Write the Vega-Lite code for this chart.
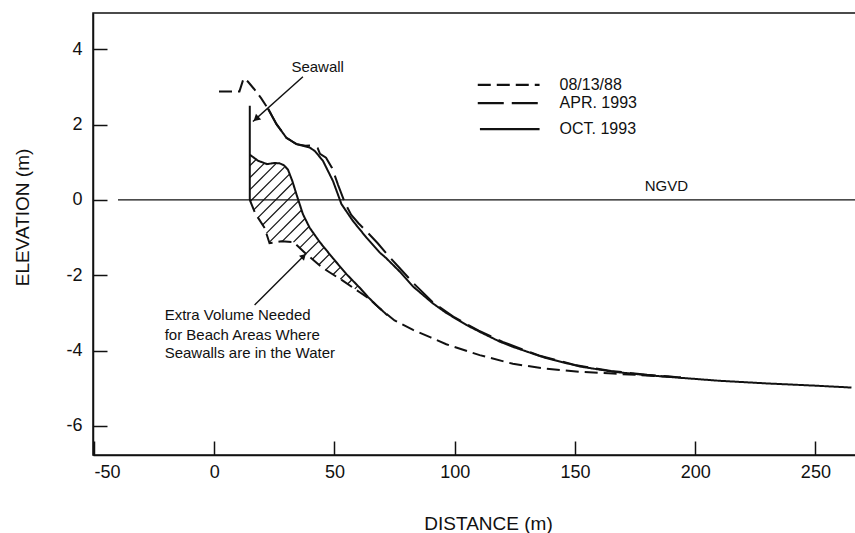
{
  "$schema": "https://vega.github.io/schema/vega-lite/v6.json",
  "width": 770,
  "height": 442,
  "autosize": {"type": "none"},
  "padding": {"left": 93, "top": 13, "right": 0, "bottom": 78},
  "background": "white",
  "config": {
    "view": {"stroke": "#111", "strokeWidth": 1.5},
    "font": "Liberation Sans",
    "axis": {"grid": false, "domainColor": "#111", "domainWidth": 1.5, "tickColor": "#111", "tickWidth": 1.5, "labelColor": "#111", "titleColor": "#111", "labelFont": "Liberation Sans", "titleFont": "Liberation Sans", "titleFontWeight": "normal"}
  },
  "datasets": {
    "profiles": [
      {"series": "08/13/88", "seg": "d1", "i": 0, "x": 2, "y": 2.88},
      {"series": "08/13/88", "seg": "d1", "i": 1, "x": 10.5, "y": 2.88},
      {"series": "08/13/88", "seg": "d1", "i": 2, "x": 12.2, "y": 3.22},
      {"series": "08/13/88", "seg": "d1", "i": 3, "x": 14, "y": 3.14},
      {"series": "08/13/88", "seg": "d1", "i": 4, "x": 16.5, "y": 2.95},
      {"series": "08/13/88", "seg": "d1", "i": 5, "x": 19.5, "y": 2.7},
      {"series": "08/13/88", "seg": "d1", "i": 6, "x": 22.4, "y": 2.42},
      {"series": "08/13/88", "seg": "d2", "i": 0, "x": 14.8, "y": 0},
      {"series": "08/13/88", "seg": "d2", "i": 1, "x": 17, "y": -0.35},
      {"series": "08/13/88", "seg": "d2", "i": 2, "x": 21, "y": -0.75},
      {"series": "08/13/88", "seg": "d2", "i": 3, "x": 23, "y": -1.15},
      {"series": "08/13/88", "seg": "d2", "i": 4, "x": 28, "y": -1.1},
      {"series": "08/13/88", "seg": "d2", "i": 5, "x": 33, "y": -1.12},
      {"series": "08/13/88", "seg": "d2", "i": 6, "x": 38, "y": -1.42},
      {"series": "08/13/88", "seg": "d2", "i": 7, "x": 45, "y": -1.8},
      {"series": "08/13/88", "seg": "d2", "i": 8, "x": 53.6, "y": -2.15},
      {"series": "08/13/88", "seg": "d2", "i": 9, "x": 60.5, "y": -2.45},
      {"series": "08/13/88", "seg": "d2", "i": 10, "x": 64, "y": -2.6},
      {"series": "08/13/88", "seg": "d2", "i": 11, "x": 68.9, "y": -2.88},
      {"series": "08/13/88", "seg": "d2", "i": 12, "x": 75, "y": -3.2},
      {"series": "08/13/88", "seg": "d2", "i": 13, "x": 82.7, "y": -3.45},
      {"series": "08/13/88", "seg": "d2", "i": 14, "x": 90, "y": -3.65},
      {"series": "08/13/88", "seg": "d2", "i": 15, "x": 96.5, "y": -3.83},
      {"series": "08/13/88", "seg": "d2", "i": 16, "x": 110.4, "y": -4.12},
      {"series": "08/13/88", "seg": "d2", "i": 17, "x": 124.2, "y": -4.35},
      {"series": "08/13/88", "seg": "d2", "i": 18, "x": 138.1, "y": -4.48},
      {"series": "08/13/88", "seg": "d2", "i": 19, "x": 152, "y": -4.56},
      {"series": "08/13/88", "seg": "d2", "i": 20, "x": 165.8, "y": -4.61},
      {"series": "08/13/88", "seg": "d2", "i": 21, "x": 180, "y": -4.66},
      {"series": "08/13/88", "seg": "d2", "i": 22, "x": 194, "y": -4.71},
      {"series": "APR. 1993", "seg": "a1", "i": 0, "x": 22.4, "y": 2.42},
      {"series": "APR. 1993", "seg": "a1", "i": 1, "x": 25.9, "y": 2.01},
      {"series": "APR. 1993", "seg": "a1", "i": 2, "x": 30, "y": 1.65},
      {"series": "APR. 1993", "seg": "a1", "i": 3, "x": 34.2, "y": 1.48},
      {"series": "APR. 1993", "seg": "a1", "i": 4, "x": 38, "y": 1.44},
      {"series": "APR. 1993", "seg": "a1", "i": 5, "x": 41, "y": 1.45},
      {"series": "APR. 1993", "seg": "a1", "i": 6, "x": 43, "y": 1.38},
      {"series": "APR. 1993", "seg": "a1", "i": 7, "x": 44, "y": 1.22},
      {"series": "APR. 1993", "seg": "a1", "i": 8, "x": 46.5, "y": 1.12},
      {"series": "APR. 1993", "seg": "a1", "i": 9, "x": 49, "y": 0.85},
      {"series": "APR. 1993", "seg": "a1", "i": 10, "x": 51.5, "y": 0.4},
      {"series": "APR. 1993", "seg": "a1", "i": 11, "x": 54.5, "y": -0.1},
      {"series": "APR. 1993", "seg": "a1", "i": 12, "x": 57, "y": -0.4},
      {"series": "APR. 1993", "seg": "a1", "i": 13, "x": 60, "y": -0.62},
      {"series": "APR. 1993", "seg": "a1", "i": 14, "x": 64, "y": -0.88},
      {"series": "APR. 1993", "seg": "a1", "i": 15, "x": 68, "y": -1.15},
      {"series": "APR. 1993", "seg": "a1", "i": 16, "x": 72, "y": -1.45},
      {"series": "APR. 1993", "seg": "a1", "i": 17, "x": 77, "y": -1.8},
      {"series": "APR. 1993", "seg": "a1", "i": 18, "x": 83, "y": -2.22},
      {"series": "APR. 1993", "seg": "a1", "i": 19, "x": 91, "y": -2.72},
      {"series": "APR. 1993", "seg": "a1", "i": 20, "x": 100, "y": -3.12},
      {"series": "APR. 1993", "seg": "a1", "i": 21, "x": 110, "y": -3.47},
      {"series": "APR. 1993", "seg": "a1", "i": 22, "x": 120, "y": -3.77},
      {"series": "APR. 1993", "seg": "a1", "i": 23, "x": 135, "y": -4.13},
      {"series": "APR. 1993", "seg": "a1", "i": 24, "x": 150, "y": -4.38},
      {"series": "APR. 1993", "seg": "a1", "i": 25, "x": 165, "y": -4.54},
      {"series": "APR. 1993", "seg": "a1", "i": 26, "x": 180, "y": -4.64},
      {"series": "APR. 1993", "seg": "a1", "i": 27, "x": 194, "y": -4.71},
      {"series": "OCT. 1993", "seg": "o1", "i": 0, "x": 22.4, "y": 2.42},
      {"series": "OCT. 1993", "seg": "o1", "i": 1, "x": 25.9, "y": 2.01},
      {"series": "OCT. 1993", "seg": "o1", "i": 2, "x": 30, "y": 1.65},
      {"series": "OCT. 1993", "seg": "o1", "i": 3, "x": 34.2, "y": 1.48},
      {"series": "OCT. 1993", "seg": "o1", "i": 4, "x": 39.7, "y": 1.39},
      {"series": "OCT. 1993", "seg": "o1", "i": 5, "x": 41.8, "y": 1.3},
      {"series": "OCT. 1993", "seg": "o1", "i": 6, "x": 45.2, "y": 1.04},
      {"series": "OCT. 1993", "seg": "o1", "i": 7, "x": 49.4, "y": 0.5},
      {"series": "OCT. 1993", "seg": "o1", "i": 8, "x": 52.9, "y": -0.11},
      {"series": "OCT. 1993", "seg": "o1", "i": 9, "x": 57.7, "y": -0.56},
      {"series": "OCT. 1993", "seg": "o1", "i": 10, "x": 63.3, "y": -1.0},
      {"series": "OCT. 1993", "seg": "o1", "i": 11, "x": 68.9, "y": -1.4},
      {"series": "OCT. 1993", "seg": "o1", "i": 12, "x": 71.6, "y": -1.55},
      {"series": "OCT. 1993", "seg": "o1", "i": 13, "x": 77.1, "y": -1.9},
      {"series": "OCT. 1993", "seg": "o1", "i": 14, "x": 82.7, "y": -2.3},
      {"series": "OCT. 1993", "seg": "o1", "i": 15, "x": 91, "y": -2.75},
      {"series": "OCT. 1993", "seg": "o1", "i": 16, "x": 96.5, "y": -3.0},
      {"series": "OCT. 1993", "seg": "o1", "i": 17, "x": 104.9, "y": -3.32},
      {"series": "OCT. 1993", "seg": "o1", "i": 18, "x": 110.4, "y": -3.5},
      {"series": "OCT. 1993", "seg": "o1", "i": 19, "x": 118.7, "y": -3.76},
      {"series": "OCT. 1993", "seg": "o1", "i": 20, "x": 124.2, "y": -3.9},
      {"series": "OCT. 1993", "seg": "o1", "i": 21, "x": 138.1, "y": -4.2},
      {"series": "OCT. 1993", "seg": "o1", "i": 22, "x": 152, "y": -4.42},
      {"series": "OCT. 1993", "seg": "o1", "i": 23, "x": 165.8, "y": -4.56},
      {"series": "OCT. 1993", "seg": "o1", "i": 24, "x": 179.7, "y": -4.65},
      {"series": "OCT. 1993", "seg": "o1", "i": 25, "x": 193.6, "y": -4.72},
      {"series": "OCT. 1993", "seg": "o1", "i": 26, "x": 210, "y": -4.8},
      {"series": "OCT. 1993", "seg": "o1", "i": 27, "x": 229.6, "y": -4.87},
      {"series": "OCT. 1993", "seg": "o1", "i": 28, "x": 250, "y": -4.93},
      {"series": "OCT. 1993", "seg": "o1", "i": 29, "x": 265, "y": -4.98},
      {"series": "OCT. 1993", "seg": "o2", "i": 0, "x": 14.8, "y": 1.2},
      {"series": "OCT. 1993", "seg": "o2", "i": 1, "x": 18.2, "y": 1.04},
      {"series": "OCT. 1993", "seg": "o2", "i": 2, "x": 22, "y": 0.95},
      {"series": "OCT. 1993", "seg": "o2", "i": 3, "x": 25, "y": 0.98},
      {"series": "OCT. 1993", "seg": "o2", "i": 4, "x": 27.2, "y": 0.97},
      {"series": "OCT. 1993", "seg": "o2", "i": 5, "x": 29, "y": 0.92},
      {"series": "OCT. 1993", "seg": "o2", "i": 6, "x": 30.7, "y": 0.8},
      {"series": "OCT. 1993", "seg": "o2", "i": 7, "x": 32.5, "y": 0.5},
      {"series": "OCT. 1993", "seg": "o2", "i": 8, "x": 34.2, "y": 0.15},
      {"series": "OCT. 1993", "seg": "o2", "i": 9, "x": 36.9, "y": -0.38},
      {"series": "OCT. 1993", "seg": "o2", "i": 10, "x": 39.7, "y": -0.74},
      {"series": "OCT. 1993", "seg": "o2", "i": 11, "x": 43.9, "y": -1.12},
      {"series": "OCT. 1993", "seg": "o2", "i": 12, "x": 49.4, "y": -1.55},
      {"series": "OCT. 1993", "seg": "o2", "i": 13, "x": 55, "y": -1.97},
      {"series": "OCT. 1993", "seg": "o2", "i": 14, "x": 60.5, "y": -2.33},
      {"series": "OCT. 1993", "seg": "o2", "i": 15, "x": 64, "y": -2.58},
      {"series": "OCT. 1993", "seg": "o2", "i": 16, "x": 68, "y": -2.83},
      {"series": "OCT. 1993", "seg": "o2", "i": 17, "x": 72, "y": -3.06},
      {"series": "OCT. 1993", "seg": "o3", "i": 0, "x": 14.8, "y": 2.5},
      {"series": "OCT. 1993", "seg": "o3", "i": 1, "x": 14.8, "y": 0}
    ],
    "hatch": [
      {"x": 14.8, "y": 0.905, "x2": 17.46, "y2": 1.075},
      {"x": 14.8, "y": 0.587, "x2": 20.91, "y2": 0.977},
      {"x": 14.8, "y": 0.268, "x2": 25.7, "y2": 0.964},
      {"x": 15.01, "y": -0.037, "x2": 29.23, "y2": 0.871},
      {"x": 16.47, "y": -0.263, "x2": 31.31, "y2": 0.685},
      {"x": 18.21, "y": -0.47, "x2": 32.6, "y2": 0.449},
      {"x": 20.12, "y": -0.666, "x2": 33.89, "y2": 0.212},
      {"x": 21.66, "y": -0.887, "x2": 35.13, "y2": -0.027},
      {"x": 22.87, "y": -1.128, "x2": 36.34, "y2": -0.268},
      {"x": 28.27, "y": -1.102, "x2": 37.8, "y2": -0.494},
      {"x": 32.97, "y": -1.12, "x2": 39.46, "y2": -0.706},
      {"x": 35.55, "y": -1.274, "x2": 41.46, "y2": -0.897},
      {"x": 38.13, "y": -1.428, "x2": 43.53, "y2": -1.086},
      {"x": 40.83, "y": -1.574, "x2": 45.74, "y2": -1.261},
      {"x": 43.53, "y": -1.72, "x2": 47.94, "y2": -1.439},
      {"x": 46.4, "y": -1.856, "x2": 50.23, "y2": -1.611},
      {"x": 49.44, "y": -1.98, "x2": 52.52, "y2": -1.784},
      {"x": 52.47, "y": -2.105, "x2": 54.8, "y2": -1.956},
      {"x": 55.47, "y": -2.233, "x2": 57.26, "y2": -2.118},
      {"x": 58.46, "y": -2.36, "x2": 59.71, "y2": -2.28}
    ],
    "leaders": [
      {"x": 36.9, "y": 3.27, "x2": 16.1, "y2": 2.08},
      {"x": 16.8, "y": -2.79, "x2": 38.3, "y2": -1.42}
    ],
    "notes": [
      {"label": "Seawall", "x": 32.1, "y": 3.54},
      {"label": "Extra Volume Needed", "x": -20.6, "y": -3.05},
      {"label": "for Beach Areas Where", "x": -20.6, "y": -3.58},
      {"label": "Seawalls are in the Water", "x": -20.6, "y": -4.07},
      {"label": "NGVD", "x": 179, "y": 0.37}
    ],
    "legend": [
      {"series": "08/13/88", "x": 109.6, "x2": 135.3, "y": 3.05},
      {"series": "APR. 1993", "x": 109.6, "x2": 135.3, "y": 2.57},
      {"series": "OCT. 1993", "x": 110.5, "x2": 135.3, "y": 1.88}
    ]
  },
  "layer": [
    {
      "data": {"values": [{"x": -40, "x2": 269.8, "y": 0}]},
      "mark": {"type": "rule", "color": "#111", "strokeWidth": 1.2},
      "encoding": {
        "x": {"field": "x", "type": "quantitative", "scale": {"domain": [-50.4, 269.8], "nice": false, "zero": false},
          "axis": {"values": [-50, 0, 50, 100, 150, 200, 250], "tickSize": -14, "labelPadding": 22, "labelFontSize": 18, "labelExpr": "datum.value < 0 ? '-' + abs(datum.value) : '' + datum.value", "title": "DISTANCE (m)", "titleFontSize": 19, "titleX": 395, "titleY": 68, "titleBaseline": "middle", "titleAlign": "center"}},
        "x2": {"field": "x2"},
        "y": {"field": "y", "type": "quantitative", "scale": {"domain": [-6.77, 4.96], "nice": false, "zero": false},
          "axis": {"values": [-6, -4, -2, 0, 2, 4], "tickSize": -14, "labelPadding": 25, "labelFontSize": 18, "labelExpr": "datum.value < 0 ? '-' + abs(datum.value) : '' + datum.value", "title": "ELEVATION (m)", "titleFontSize": 19, "titleX": -71, "titleY": 204, "titleBaseline": "middle", "titleAlign": "center", "titleAngle": 270}}
      }
    },
    {
      "data": {"name": "profiles"},
      "mark": {"type": "line", "color": "#111", "strokeWidth": 2},
      "encoding": {
        "x": {"field": "x", "type": "quantitative"},
        "y": {"field": "y", "type": "quantitative"},
        "detail": {"field": "seg"},
        "order": {"field": "i", "type": "quantitative"},
        "strokeDash": {"field": "series", "type": "nominal", "legend": null,
          "scale": {"domain": ["08/13/88", "APR. 1993", "OCT. 1993"], "range": [[13, 6], [26, 8], [1, 0]]}}
      }
    },
    {
      "data": {"name": "hatch"},
      "mark": {"type": "rule", "color": "#111", "strokeWidth": 1.2},
      "encoding": {
        "x": {"field": "x", "type": "quantitative"},
        "y": {"field": "y", "type": "quantitative"},
        "x2": {"field": "x2"},
        "y2": {"field": "y2"}
      }
    },
    {
      "data": {"name": "leaders"},
      "mark": {"type": "rule", "color": "#111", "strokeWidth": 1.4},
      "encoding": {
        "x": {"field": "x", "type": "quantitative"},
        "y": {"field": "y", "type": "quantitative"},
        "x2": {"field": "x2"},
        "y2": {"field": "y2"}
      }
    },
    {
      "data": {"values": [{"x": 17.4, "y": 2.15}]},
      "mark": {"type": "point", "shape": "triangle-up", "filled": true, "color": "#111", "size": 60, "angle": 228, "opacity": 1},
      "encoding": {"x": {"field": "x", "type": "quantitative"}, "y": {"field": "y", "type": "quantitative"}}
    },
    {
      "data": {"values": [{"x": 37.2, "y": -1.49}]},
      "mark": {"type": "point", "shape": "triangle-up", "filled": true, "color": "#111", "size": 50, "angle": 45, "opacity": 1},
      "encoding": {"x": {"field": "x", "type": "quantitative"}, "y": {"field": "y", "type": "quantitative"}}
    },
    {
      "data": {"name": "notes"},
      "mark": {"type": "text", "align": "left", "baseline": "middle", "fontSize": 15, "color": "#111", "font": "Liberation Sans"},
      "encoding": {
        "x": {"field": "x", "type": "quantitative"},
        "y": {"field": "y", "type": "quantitative"},
        "text": {"field": "label"}
      }
    },
    {
      "data": {"name": "legend"},
      "mark": {"type": "rule", "color": "#111", "strokeWidth": 2.2},
      "encoding": {
        "x": {"field": "x", "type": "quantitative"},
        "x2": {"field": "x2"},
        "y": {"field": "y", "type": "quantitative"},
        "strokeDash": {"field": "series", "type": "nominal", "legend": null,
          "scale": {"domain": ["08/13/88", "APR. 1993", "OCT. 1993"], "range": [[13, 6], [26, 8], [1, 0]]}}
      }
    },
    {
      "data": {"name": "legend"},
      "mark": {"type": "text", "align": "left", "baseline": "middle", "fontSize": 16, "color": "#111", "font": "Liberation Sans", "dx": 20},
      "encoding": {
        "x": {"field": "x2", "type": "quantitative"},
        "y": {"field": "y", "type": "quantitative"},
        "text": {"field": "series"}
      }
    }
  ]
}
